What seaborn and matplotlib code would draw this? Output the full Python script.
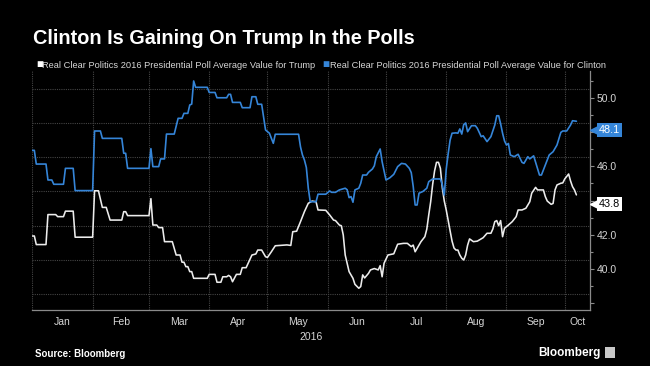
import numpy as np
import pandas as pd
import matplotlib
matplotlib.use("Agg")
import matplotlib.pyplot as plt
import matplotlib.transforms as mtransforms
from matplotlib.patches import Rectangle
import seaborn as sns

sns.set_style("dark")
plt.rcParams["font.family"] = ["Liberation Sans", "DejaVu Sans"]

# ---------------- data ----------------
title = "Clinton Is Gaining On Trump In the Polls"
trump_label = "Real Clear Politics 2016 Presidential Poll Average Value for Trump"
clinton_label = "Real Clear Politics 2016 Presidential Poll Average Value for Clinton"
start_date = "2016-01-01"
end_date = "2016-10-14"

# days since 2016-01-01
clinton_days = [0, 1, 2, 7, 8, 10, 11, 16, 17, 21, 22, 31, 32, 35, 36, 46, 47, 48, 49, 60,
                61, 62, 65, 66, 68, 69, 73, 75, 77, 78, 80, 81, 82, 83, 84, 90, 91, 94, 95, 100,
                101, 102, 103, 107, 108, 112, 113, 115, 116, 118, 120, 122, 124, 125, 137, 138, 139, 140, 141, 142,
                143, 146, 147, 151, 153, 154, 156, 158, 161, 162, 163, 164, 165, 166, 168, 169, 170, 172, 173, 175,
                176, 177, 179, 180, 182, 184, 186, 188, 190, 192, 194, 195, 196, 197, 198, 199, 201, 203, 204, 206,
                210, 211, 212, 213, 214, 215, 216, 218, 219, 220, 221, 222, 223, 224, 226, 228, 229, 231, 232, 234,
                236, 238, 239, 240, 241, 242, 243, 244, 245, 246, 248, 250, 252, 253, 255, 256, 258, 259, 261, 262,
                264, 266, 268, 270, 272, 273, 275, 277, 278, 280]
clinton_vals = [46.4, 46.4, 45.6, 45.6, 44.67, 44.67, 44.42, 44.42, 45.35, 45.35, 44.05, 44.05, 47.53, 47.53, 47.1, 47.1, 46.23, 46.23, 45.35, 45.35,
                46.5, 45.45, 45.45, 45.9, 45.9, 47.35, 47.35, 48.27, 48.27, 48.56, 48.56, 49.05, 49.1, 50.45, 50.08, 50.08, 49.78, 49.78, 49.47, 49.47,
                49.67, 49.67, 49.2, 49.2, 48.89, 48.89, 49.53, 49.53, 49.09, 49.09, 47.59, 47.4, 46.81, 47.34, 47.34, 46.6, 46.13, 45.84, 45.4, 44.19,
                43.4, 43.4, 43.84, 43.84, 44.03, 43.95, 43.95, 44.09, 44.19, 44.1, 43.64, 43.7, 43.37, 44.09, 44.19, 44.48, 44.96, 44.96, 45.12, 45.31,
                45.5, 46.03, 46.48, 45.74, 44.67, 44.8, 45.0, 45.45, 45.64, 45.6, 45.35, 45.1, 44.3, 43.21, 43.21, 43.9, 44.0, 44.19, 44.57, 44.73,
                44.73, 44.38, 43.79, 45.3, 46.2, 47.0, 47.4, 47.42, 47.4, 47.65, 47.35, 47.9, 48.0, 47.49, 47.84, 47.84, 47.69, 47.2, 47.25, 46.91,
                47.2, 47.88, 48.42, 48.42, 47.95, 47.4, 46.95, 46.71, 46.8, 46.13, 46.03, 46.17, 45.7, 45.64, 46.03, 45.9, 46.08, 45.7, 44.96, 44.96,
                45.55, 46.13, 46.32, 46.71, 47.45, 47.53, 47.53, 47.88, 48.13, 48.1]

trump_days = [0, 1, 2, 7, 8, 12, 13, 16, 17, 21, 22, 31, 32, 34, 36, 38, 40, 46, 47, 48,
              49, 60, 61, 62, 64, 65, 67, 68, 72, 74, 76, 77, 78, 79, 80, 81, 82, 83, 90, 91,
              94, 95, 97, 98, 100, 101, 102, 103, 105, 107, 108, 110, 113, 115, 116, 118, 120, 121, 123, 125,
              131, 133, 134, 136, 138, 140, 142, 144, 146, 147, 151, 153, 155, 156, 158, 159, 160, 161, 163, 165,
              166, 168, 169, 170, 171, 173, 174, 176, 178, 179, 180, 181, 183, 186, 188, 191, 193, 195, 196, 197,
              198, 200, 202, 203, 204, 205, 206, 207, 208, 209, 210, 211, 212, 213, 214, 215, 216, 217, 218, 219,
              220, 221, 222, 223, 224, 225, 227, 229, 232, 234, 236, 237, 238, 239, 240, 241, 242, 243, 245, 247,
              249, 250, 252, 254, 256, 257, 259, 260, 263, 264, 265, 267, 268, 269, 270, 272, 273, 274, 276, 277,
              278, 279, 280]
trump_vals = [41.4, 41.4, 40.9, 40.9, 42.65, 42.65, 42.53, 42.53, 42.85, 42.85, 41.33, 41.33, 44.04, 44.04, 43.07, 43.07, 42.33, 42.33, 42.82, 42.82,
              42.59, 42.59, 43.58, 42.04, 42.04, 41.89, 41.89, 41.07, 41.07, 40.29, 40.29, 39.87, 39.87, 39.61, 39.61, 39.32, 39.32, 38.93, 38.93, 39.16,
              39.16, 38.7, 38.7, 39.02, 39.02, 39.1, 39.02, 38.73, 39.16, 39.16, 39.55, 39.55, 40.29, 40.35, 40.58, 40.58, 40.19, 40.15, 40.48, 40.83,
              40.88, 40.85, 41.65, 41.68, 42.24, 42.82, 43.31, 43.44, 43.4, 42.92, 42.9, 42.63, 42.33, 42.3, 42.04, 42.0, 41.46, 40.29, 39.32, 38.93,
              38.58, 38.35, 38.45, 39.13, 38.95, 39.22, 39.42, 39.5, 39.42, 39.67, 39.02, 39.81, 40.29, 40.36, 40.92, 40.97, 40.97, 40.78, 40.87, 40.48,
              40.68, 41.07, 41.36, 41.8, 42.63, 43.4, 44.4, 45.2, 45.7, 45.7, 45.35, 44.19, 43.44, 42.92, 42.3, 41.7, 41.1, 40.7, 40.58, 40.58,
              40.29, 40.1, 40.0, 40.29, 40.86, 41.23, 41.07, 41.1, 41.3, 41.56, 41.56, 41.81, 42.24, 42.3, 42.0, 42.3, 41.36, 41.85, 42.04, 42.24,
              42.53, 42.92, 42.92, 43.02, 43.4, 43.9, 44.24, 44.09, 44.09, 43.7, 43.44, 43.25, 43.3, 44.09, 44.38, 44.48, 44.5, 44.73, 45.02, 44.61,
              44.28, 44.09, 43.8]

month_labels = ["Jan", "Feb", "Mar", "Apr", "May", "Jun", "Jul", "Aug", "Sep", "Oct"]
year_label = "2016"
y_grid_values = [38, 40, 42, 44, 46, 48, 50]
y_tick_labels = ["", "40.0", "42.0", "", "46.0", "", "50.0"]
y_minor_values = [39, 41, 43, 45, 47, 49, 51]
last_clinton = "48.1"
last_trump = "43.8"

# ---------------- style ----------------
BG = "#000000"
BLUE = "#3585d8"
WHITE = "#ececec"
AXIS = "#8a8a8a"
GRID = "#444444"
TXT = "#d6d6d6"
LABEL_SHIFT = 0.53  # Bloomberg draws tick labels slightly below the grid lines

t0 = pd.Timestamp(start_date)
df_c = pd.DataFrame({"date": t0 + pd.to_timedelta(clinton_days, unit="D"), "value": clinton_vals})
df_t = pd.DataFrame({"date": t0 + pd.to_timedelta(trump_days, unit="D"), "value": trump_vals})

fig = plt.figure(figsize=(6.5, 3.66), dpi=100, facecolor=BG)
W, H = 650, 366
AXW = 590 - 32.4
ax = fig.add_axes([32.4 / W, 1 - 310 / H, AXW / W, (310 - 70.7) / H])
ax.set_facecolor(BG)

sns.lineplot(data=df_t, x="date", y="value", ax=ax, color=WHITE, linewidth=1.15, estimator=None)
sns.lineplot(data=df_c, x="date", y="value", ax=ax, color=BLUE, linewidth=1.2, estimator=None)

ax.set_xlim(pd.Timestamp(start_date), pd.Timestamp(end_date))
ax.set_ylim(37.08, 51.05)
ax.set_xlabel("")
ax.set_ylabel("")

# horizontal grid lines at even values
for v in y_grid_values:
    ax.axhline(v, color=GRID, linewidth=0.8, linestyle=(0, (1, 1)), zorder=0)

# y axis on the right
ax.yaxis.tick_right()
ax.set_yticks([v - LABEL_SHIFT for v in y_grid_values])
ax.set_yticklabels(y_tick_labels)
ax.set_yticks([v - LABEL_SHIFT for v in y_minor_values], minor=True)
ax.tick_params(axis="y", which="both", right=True, left=False, direction="out",
               length=3, width=0.8, color=AXIS, labelcolor=TXT, labelsize=7.5, pad=2)
ax.tick_params(axis="y", which="minor", length=2)

# x axis: month boundaries + centered labels
month_starts = pd.date_range(start_date, periods=len(month_labels), freq="MS")
ax.set_xticks(month_starts)
ax.set_xticklabels([])
mids = []
xmax = pd.Timestamp(end_date)
for i, ms in enumerate(month_starts):
    nxt = month_starts[i + 1] if i + 1 < len(month_starts) else xmax
    nxt = min(nxt, xmax)
    mids.append(ms + (nxt - ms) / 2)
ax.set_xticks(mids, minor=True)
ax.set_xticklabels(month_labels, minor=True)
ax.tick_params(axis="x", which="major", length=3, width=0.8, color=AXIS, direction="out")
ax.tick_params(axis="x", which="minor", length=0, labelcolor=TXT, labelsize=7.5, pad=5)
ax.grid(axis="x", which="major", color=GRID, linewidth=0.8, linestyle=(0, (1, 1)))
ax.grid(axis="y", visible=False)
ax.grid(axis="x", which="minor", visible=False)

for s in ["left", "top"]:
    ax.spines[s].set_visible(False)
for s in ["right", "bottom"]:
    ax.spines[s].set_visible(True)
    ax.spines[s].set_color(AXIS)
    ax.spines[s].set_linewidth(0.9)

# last value tags
trans = mtransforms.blended_transform_factory(ax.transAxes, ax.transData)
for txt, fc, tc in [(last_clinton, BLUE, "white"), (last_trump, "white", "black")]:
    y = float(txt) - LABEL_SHIFT
    ax.plot([1 + 3.5 / AXW], [y], marker="<", markersize=6, color=fc, transform=trans,
            clip_on=False, zorder=4)
    ax.text(1 + 8.5 / AXW, y, txt, transform=trans, ha="left", va="center", fontsize=7.8, color=tc,
            bbox=dict(boxstyle="square,pad=0.18", fc=fc, ec="none"), clip_on=False, zorder=6)

# texts
fig.text(33 / W, 1 - 39 / H, title, color="white", fontsize=14.3, fontweight="bold", va="center", ha="left")
fig.text(36 / W, 1 - 65 / H, "\u25a0", color="white", fontsize=8.5, va="center", ha="left")
fig.text(42.5 / W, 1 - 65 / H, trump_label, color=TXT, fontsize=6.65, va="center", ha="left")
fig.text(322 / W, 1 - 65 / H, "\u25a0", color=BLUE, fontsize=8.5, va="center", ha="left")
fig.text(329.5 / W, 1 - 65 / H, clinton_label, color=TXT, fontsize=6.65, va="center", ha="left")
fig.text(311 / W, 1 - 337 / H, year_label, color=TXT, fontsize=7.5, va="center", ha="center")
fig.text(35 / W, 1 - 354 / H, "Source: Bloomberg", color="white", fontsize=7.0, fontweight="bold",
         va="center", ha="left")
fig.text(601 / W, 1 - 353 / H, "Bloomberg", color="white", fontsize=8.5, fontweight="bold",
         va="center", ha="right")
fig.patches.append(Rectangle((605 / W, 1 - 358 / H), 10 / W, 11 / H, transform=fig.transFigure,
                             facecolor="#c8c8c8", edgecolor="none"))

fig.savefig("out.png", dpi=100, facecolor=BG)
